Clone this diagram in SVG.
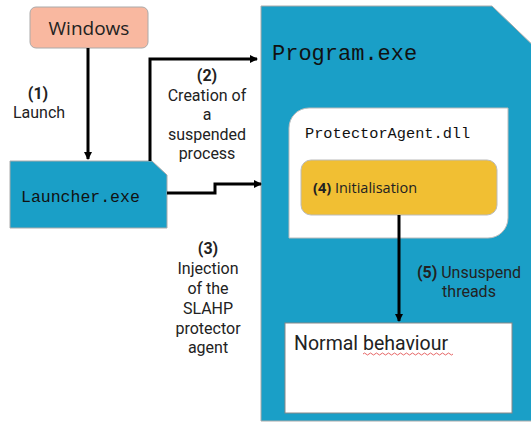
<svg xmlns="http://www.w3.org/2000/svg" width="531" height="424" viewBox="0 0 531 424">
<defs>
<marker id="ah" markerWidth="8" markerHeight="8" refX="7" refY="4" orient="auto" markerUnits="userSpaceOnUse"><path d="M0,0 L8,4 L0,8 z" fill="#000"/></marker>
<style>
.lbl{font-family:Roboto,"Liberation Sans",sans-serif;font-size:16px;fill:#222;text-anchor:middle}
.b{font-weight:bold}
.mono{font-family:"Liberation Mono","DejaVu Sans Mono",monospace;fill:#111}
.conn{fill:none;stroke:#000;stroke-width:3}
</style>
</defs>
<rect width="531" height="424" fill="#fff"/>
<g id="program">
<polygon points="261,6 492,6 540,52 540,421 261,421" fill="#1A9FC7" stroke="#aaa" stroke-width="1"/>
<text class="mono" x="272" y="60" font-size="22">Program.exe</text>
</g>
<g id="protector">
<path d="M309,108 H508 V218 A20,20 0 0 1 488,238 H289 V128 A20,20 0 0 1 309,108 z" fill="#fff" stroke="#bbb" stroke-width="1"/>
<text class="mono" x="305" y="138" font-size="15.3" fill="#333">ProtectorAgent.dll</text>
</g>
<g id="init">
<rect x="301" y="160" width="196" height="55" rx="10" fill="#F1BF33" stroke="#bbb" stroke-width="1"/>
<text x="313" y="193" font-family="'Open Sans','Liberation Sans',sans-serif" font-size="14.5" fill="#222"><tspan font-weight="bold">(4)</tspan> Initialisation</text>
</g>
<g id="normal">
<rect x="285" y="323" width="227" height="90" fill="#fff" stroke="#888" stroke-width="1"/>
<text x="294" y="350" font-family="Roboto,'Liberation Sans',sans-serif" font-size="19.5" fill="#222">Normal behaviour</text>
<path d="M363,354 q1.5,-2 3,0 t3,0 t3,0 t3,0 t3,0 t3,0 t3,0 t3,0 t3,0 t3,0 t3,0 t3,0 t3,0 t3,0 t3,0 t3,0 t3,0 t3,0 t3,0 t3,0 t3,0 t3,0 t3,0 t3,0 t3,0 t3,0 t3,0 t3,0 t3,0 t3,0" fill="none" stroke="#e04040" stroke-width="0.8"/>
</g>
<g id="windows">
<rect x="30" y="7" width="118" height="41" rx="6" fill="#F9B8A0" stroke="#aaa" stroke-width="1"/>
<text x="89" y="35" font-family="'Open Sans','Liberation Sans',sans-serif" font-size="19" fill="#222" text-anchor="middle">Windows</text>
</g>
<g id="launcher">
<polygon points="10,161 152,161 167,175 167,228 10,228" fill="#1A9FC7" stroke="#aaa" stroke-width="1"/>
<text class="mono" x="21" y="202" font-size="16.5">Launcher.exe</text>
</g>
<g id="connectors">
<path class="conn" d="M88,48 V159" marker-end="url(#ah)"/>
<path class="conn" d="M150,161 V59 H257" marker-end="url(#ah)"/>
<path class="conn" d="M167,193 H215 V184 H261" marker-end="url(#ah)"/>
<path class="conn" d="M399,215 V321" marker-end="url(#ah)"/>
</g>
<g id="labels">
<text class="lbl" x="38" y="99"><tspan class="b">(1)</tspan><tspan x="39" y="118">Launch</tspan></text>
<text class="lbl" x="207" y="81"><tspan class="b">(2)</tspan><tspan x="207" y="101">Creation of</tspan><tspan x="207" y="120">a</tspan><tspan x="207" y="140">suspended</tspan><tspan x="207" y="159">process</tspan></text>
<text class="lbl" x="208" y="254"><tspan class="b">(3)</tspan><tspan x="208" y="274">Injection</tspan><tspan x="208" y="294">of the</tspan><tspan x="208" y="314">SLAHP</tspan><tspan x="208" y="334">protector</tspan><tspan x="208" y="353">agent</tspan></text>
<text class="lbl" x="469" y="278"><tspan class="b">(5)</tspan> Unsuspend<tspan x="469" y="297">threads</tspan></text>
</g>
</svg>
